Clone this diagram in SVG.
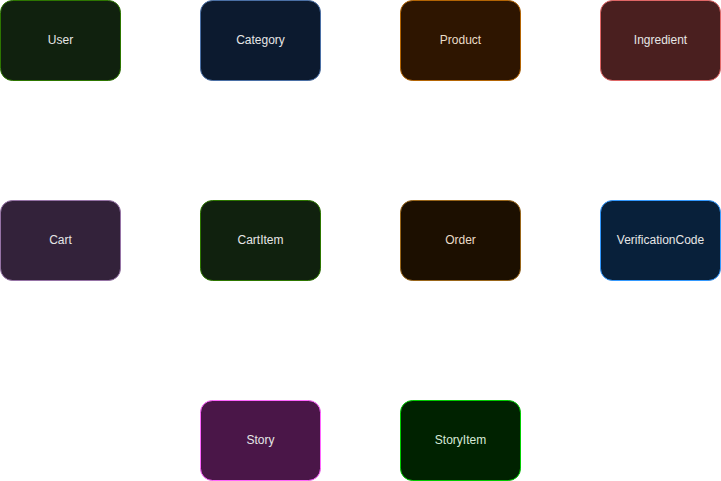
<svg xmlns="http://www.w3.org/2000/svg" width="721" height="481" viewBox="0 0 721 481">
<style>
.n rect{stroke-width:1}
.n text{font-family:"Liberation Sans",Arial,sans-serif;font-size:12px;fill:#e6e6e6;text-anchor:middle;dominant-baseline:central}
</style>
<rect width="721" height="481" fill="#ffffff"/>
<g id="connectors"></g>
<g id="User" class="n"><rect x="0.5" y="0.5" width="120" height="80" rx="12" fill="#10210e" stroke="#2d7600"/><text x="60.5" y="39.5">User</text></g>
<g id="Category" class="n"><rect x="200.5" y="0.5" width="120" height="80" rx="12" fill="#0c1a2f" stroke="#4a6fa5"/><text x="260.5" y="39.5">Category</text></g>
<g id="Product" class="n"><rect x="400.5" y="0.5" width="120" height="80" rx="12" fill="#2e1500" stroke="#b46504"/><text x="460.5" y="39.5" style="fill:#eadcc8">Product</text></g>
<g id="Ingredient" class="n"><rect x="600.5" y="0.5" width="120" height="80" rx="12" fill="#4a1f1f" stroke="#e06666"/><text x="660.5" y="39.5">Ingredient</text></g>
<g id="Cart" class="n"><rect x="0.5" y="200.5" width="120" height="80" rx="12" fill="#33223a" stroke="#9673a6"/><text x="60.5" y="239.5">Cart</text></g>
<g id="CartItem" class="n"><rect x="200.5" y="200.5" width="120" height="80" rx="12" fill="#10210e" stroke="#2d7600"/><text x="260.5" y="239.5">CartItem</text></g>
<g id="Order" class="n"><rect x="400.5" y="200.5" width="120" height="80" rx="12" fill="#1c0f00" stroke="#99661a"/><text x="460.5" y="239.5" style="fill:#eadcc8">Order</text></g>
<g id="VerificationCode" class="n"><rect x="600.5" y="200.5" width="120" height="80" rx="12" fill="#08203a" stroke="#3399ff"/><text x="660.5" y="239.5">VerificationCode</text></g>
<g id="Story" class="n"><rect x="200.5" y="400.5" width="120" height="80" rx="12" fill="#4a1648" stroke="#ff66ff"/><text x="260.5" y="439.5">Story</text></g>
<g id="StoryItem" class="n"><rect x="400.5" y="400.5" width="120" height="80" rx="12" fill="#002200" stroke="#00cc00"/><text x="460.5" y="439.5" style="fill:#d8ead8">StoryItem</text></g>
</svg>
